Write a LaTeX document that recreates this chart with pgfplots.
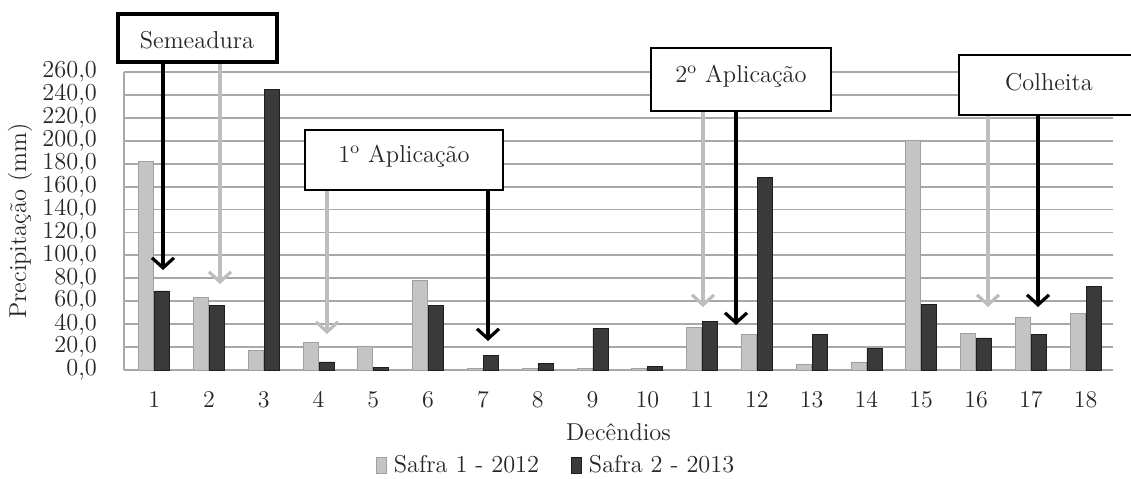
\documentclass[border=0pt]{standalone}
\usepackage{pgfplots}
\usepackage{pgfplotstable}
\pgfplotsset{compat=1.18}
\usetikzlibrary{arrows.meta}
\definecolor{lightbar}{HTML}{C4C4C4}
\definecolor{lightedge}{HTML}{A0A0A0}
\definecolor{darkbar}{HTML}{3A3A3A}
\definecolor{darkedge}{HTML}{1E1E1E}
\definecolor{gridc}{HTML}{A8A8A8}
\definecolor{garrow}{HTML}{BDBDBD}
\definecolor{txt}{HTML}{262626}

\pgfplotstableread{
x a b
1 182 69
2 63 56
3 17 245
4 24 7
5 21 2
6 78 56
7 1 13
8 1 6
9 1 36
10 1 3
11 37 42
12 31 168
13 5 31
14 7 19
15 200 57
16 32 28
17 46 31
18 49 73
}\data

\begin{document}
\begin{tikzpicture}[font=\fontsize{12.2}{14}\selectfont]
\useasboundingbox (0,0) rectangle (565.5pt,239pt);
\begin{axis}[
  at={(62pt,54pt)}, anchor=south west,
  scale only axis, width=494.5pt, height=149pt,
  xmin=0.45, xmax=18.5, ymin=0, ymax=260,
  ybar=0.5pt, bar width=7.5pt,
  xtick=data, major tick length=0pt,
  ytick={0,20,...,260},
  ymajorgrids, grid style={gridc, line width=0.9pt},
  axis x line*=bottom, axis y line*=left,
  axis line style={gridc, line width=0.9pt},
  tick label style={font=\fontsize{12.2}{14}\selectfont, text=txt},
  yticklabel style={xshift=-10pt, /pgf/number format/.cd, fixed, fixed zerofill, precision=1, use comma, assume math mode=true},
  xticklabel style={yshift=-7.5pt},
  label style={font=\fontsize{12.2}{14}\selectfont, text=txt},
  ylabel={Precipitação (mm)},
  ylabel style={at={(axis description cs:-0.105,0.5)}, anchor=center},
  xlabel={Decêndios},
  xlabel style={at={(axis description cs:0.5,-0.208)}, anchor=center},
  legend columns=2,
  legend style={draw=none, fill=none, at={(axis description cs:0.438,-0.319)}, anchor=center,
    font=\fontsize{12.2}{14}\selectfont, text=txt,
    /tikz/every odd column/.append style={column sep=1.5pt},
    /tikz/every even column/.append style={column sep=14pt}},
  legend image code/.code={\fill[#1] (0pt,-4pt) rectangle (5pt,4pt);},
  clip=false,
]
\addplot[fill=lightbar, draw=lightedge] table[x=x,y=a]{\data};
\addplot[fill=darkbar, draw=darkedge] table[x=x,y=b]{\data};
\legend{Safra 1 - 2012, Safra 2 - 2013}
\end{axis}
\begin{scope}[x=0.5pt,y=-0.5pt,yshift=239pt]
  % gray arrows
  \draw[garrow, line width=1.6pt, -{Straight Barb[length=5pt,width=11pt]}] (220,63) -- (220,284);
  \draw[garrow, line width=1.6pt, -{Straight Barb[length=5pt,width=11pt]}] (327,190) -- (327,334);
  \draw[garrow, line width=1.6pt, -{Straight Barb[length=5pt,width=11pt]}] (703,111) -- (703,307);
  \draw[garrow, line width=1.6pt, -{Straight Barb[length=5pt,width=11pt]}] (988,115) -- (988,307);
  % black arrows
  \draw[black, line width=1.6pt, -{Straight Barb[length=5pt,width=11pt]}] (163,63) -- (163,270);
  \draw[black, line width=1.6pt, -{Straight Barb[length=5pt,width=11pt]}] (488,190) -- (488,341);
  \draw[black, line width=1.6pt, -{Straight Barb[length=5pt,width=11pt]}] (736,111) -- (736,325);
  \draw[black, line width=1.6pt, -{Straight Barb[length=5pt,width=11pt]}] (1038,115) -- (1038,307);
  % boxes
  \draw[fill=white, line width=1.6pt] (118,14) rectangle (277,62);
  \node[text=txt] at (197,40) {Semeadura};
  \draw[fill=white, line width=1pt] (305,130) rectangle (503,190);
  \node[text=txt] at (404,156) {1\textsuperscript{o} Aplicação};
  \draw[fill=white, line width=1pt] (651,48) rectangle (831,111);
  \node[text=txt] at (741,76) {2\textsuperscript{o} Aplicação};
  \draw[fill=white, line width=1pt] (959,55) rectangle (1135,115);
  \node[text=txt] at (1049,82) {Colheita};
\end{scope}
\end{tikzpicture}
\end{document}
